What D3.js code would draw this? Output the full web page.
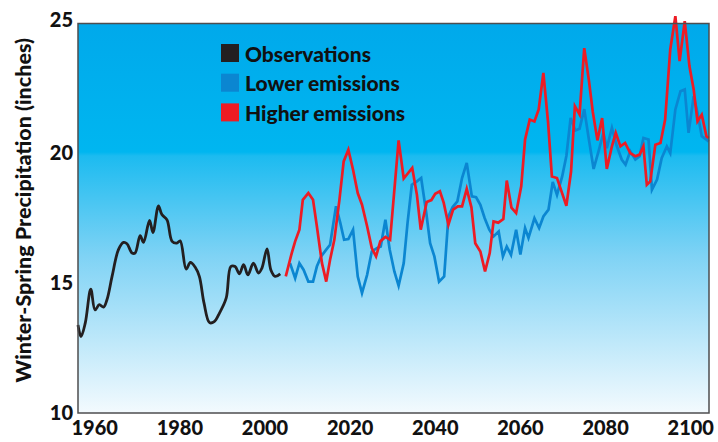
<!DOCTYPE html>
<html><head><meta charset="utf-8">
<script src="https://cdn.jsdelivr.net/npm/d3@7"></script>
<style>body{margin:0;background:#fff}svg{display:block}</style>
</head><body>
<svg id="chart" width="718" height="442"></svg>
<script>
// ---- data ----
const observations = [
  [1956.2,13.39],[1956.9,12.94],[1957.9,13.46],[1959.2,14.77],[1960.2,13.97],[1961.2,14.17],
  [1962.2,14.08],[1963.0,14.36],[1964.2,15.26],[1965.7,16.29],[1966.9,16.57],[1967.7,16.52],
  [1968.9,16.16],[1969.6,16.16],[1970.8,16.83],[1971.6,16.57],[1973.0,17.42],[1973.8,16.95],
  [1975.1,17.98],[1975.9,17.64],[1977.1,17.44],[1978.3,16.61],[1979.4,16.54],[1980.2,16.63],
  [1981.6,15.54],[1982.6,15.80],[1983.7,15.62],[1984.7,15.26],[1985.8,14.23],[1987.1,13.48],
  [1988.2,13.52],[1989.4,13.84],[1991.0,14.42],[1992.1,15.64],[1993.1,15.64],[1994.1,15.36],
  [1995.1,15.71],[1996.1,15.32],[1997.4,15.77],[1998.6,15.39],[1999.4,15.58],[2000.6,16.32],
  [2001.5,15.51],[2002.5,15.26],[2003.7,15.36]
];
const lowerEmissions = [
  [2006.0,15.77],[2007.2,15.19],[2008.2,15.77],[2009.2,15.51],[2010.3,15.06],[2011.4,15.06],
  [2012.3,15.64],[2013.3,16.03],[2014.5,16.29],[2015.4,16.48],[2016.8,17.96],[2017.8,17.32],
  [2018.7,16.67],[2019.7,16.70],[2020.8,17.06],[2021.9,15.26],[2022.9,14.62],[2024.1,15.32],
  [2025.2,16.22],[2026.4,16.35],[2027.3,16.41],[2028.4,17.44],[2029.4,16.30],[2030.5,15.45],
  [2031.5,14.90],[2032.7,15.77],[2033.6,17.32],[2034.6,18.79],[2035.8,18.92],[2036.8,19.05],
  [2038.0,17.70],[2038.9,16.54],[2039.9,16.03],[2041.0,15.06],[2042.2,15.26],[2043.2,17.57],
  [2044.2,17.93],[2045.3,18.15],[2046.4,19.05],[2047.5,19.63],[2048.7,18.34],[2049.7,18.31],
  [2050.7,18.02],[2051.7,17.51],[2052.8,17.06],[2053.8,16.80],[2055.0,16.99],[2056.0,16.03],
  [2056.9,16.41],[2057.9,16.09],[2059.1,17.06],[2060.1,16.10],[2061.2,17.12],[2062.0,16.74],
  [2063.4,17.50],[2064.5,17.12],[2065.5,17.57],[2066.7,17.83],[2067.7,18.90],[2068.7,18.40],
  [2069.9,19.10],[2070.9,19.90],[2071.9,21.36],[2073.0,20.88],[2074.0,20.95],[2075.1,21.70],
  [2076.1,20.63],[2077.3,19.40],[2078.5,20.10],[2079.6,20.79],[2080.4,20.20],[2081.6,20.98],
  [2082.7,20.30],[2083.9,19.76],[2084.8,19.56],[2085.9,20.08],[2087.1,19.76],[2088.1,19.89],
  [2089.0,20.59],[2090.2,20.53],[2091.0,18.60],[2092.2,18.99],[2093.3,19.82],[2094.5,20.27],
  [2095.3,20.01],[2096.5,21.69],[2097.7,22.39],[2098.7,22.46],[2099.6,20.79],[2100.8,22.20],
  [2101.7,21.56],[2102.7,20.66],[2103.8,20.53],[2104.3,20.45]
];
const higherEmissions = [
  [2005.0,15.26],[2006.4,16.16],[2007.2,16.61],[2008.2,17.06],[2009.0,18.21],[2010.3,18.47],
  [2011.4,18.21],[2012.3,17.19],[2013.5,15.77],[2014.5,15.06],[2015.4,15.90],[2016.4,16.67],
  [2017.6,18.21],[2018.6,19.69],[2019.7,20.14],[2020.8,19.37],[2021.9,18.47],[2022.9,18.02],
  [2024.1,17.19],[2025.2,16.35],[2026.2,16.03],[2027.2,16.61],[2028.4,16.78],[2029.5,16.67],
  [2031.5,20.50],[2032.7,19.03],[2034.7,19.44],[2035.8,18.40],[2036.7,17.06],[2038.1,18.13],
  [2039.2,18.20],[2040.1,18.44],[2041.2,18.54],[2042.1,18.09],[2043.2,17.25],[2044.3,17.83],
  [2045.4,17.96],[2046.4,17.96],[2047.5,18.63],[2048.6,17.92],[2049.5,16.54],[2050.7,16.22],
  [2051.8,15.45],[2052.9,16.16],[2053.8,17.38],[2054.9,17.33],[2056.1,17.47],[2056.9,18.95],
  [2058.0,17.91],[2059.1,17.70],[2060.3,18.73],[2061.2,20.53],[2062.3,21.30],[2063.4,21.23],
  [2064.4,21.69],[2065.5,23.10],[2066.6,21.20],[2067.5,19.11],[2068.7,19.05],[2069.9,18.47],
  [2070.9,17.98],[2072.0,19.30],[2072.9,21.82],[2074.0,21.50],[2075.1,24.05],[2076.2,22.80],
  [2077.1,21.60],[2078.2,20.50],[2079.3,21.36],[2080.4,19.40],[2081.6,20.27],[2082.5,20.79],
  [2083.6,20.27],[2084.7,20.40],[2085.9,20.01],[2087.1,19.89],[2088.1,19.95],[2089.0,20.27],
  [2089.8,18.79],[2090.6,18.92],[2091.8,20.33],[2093.0,20.40],[2094.1,21.30],[2095.3,24.00],
  [2096.5,25.28],[2097.5,23.55],[2098.7,25.09],[2099.8,23.36],[2100.8,22.46],[2101.7,21.23],
  [2102.7,21.49],[2103.8,20.66],[2104.3,20.59]
];
const xTickValues = [1960, 1980, 2000, 2020, 2040, 2060, 2080, 2100];
const yTickValues = [10, 15, 20, 25];
const legendLabels = ["Observations", "Lower emissions", "Higher emissions"];
const legendColors = ["#231f20", "#0b86d1", "#ed1c24"];
const yTitle = "Winter-Spring Precipitation (inches)";

// ---- layout ----
const svg = d3.select("#chart");
const pL = 78, pR = 709, pT = 23.5, pB = 413;
const x = d3.scaleLinear().domain([1956.2, 2104.4]).range([pL, pR]);
const y = d3.scaleLinear().domain([10, 25]).range([pB, pT]);
const FONT = "Lato, 'Open Sans', sans-serif";

// gradient background
const defs = svg.append("defs");
const grad = defs.append("linearGradient").attr("id", "bg").attr("x1", 0).attr("y1", 0).attr("x2", 0).attr("y2", 1);
[[0, "#00a9eb"], [0.33, "#00b6f0"], [0.34, "#1cbbf0"], [0.6, "#80d3f5"], [1, "#f3fafe"]]
  .forEach(([o, c]) => grad.append("stop").attr("offset", o).attr("stop-color", c));

svg.append("rect").attr("x", pL).attr("y", pT).attr("width", pR - pL).attr("height", pB - pT)
  .attr("fill", "url(#bg)");

// axes (labels only, frame drawn separately)
const xAxis = d3.axisBottom(x).tickValues(xTickValues).tickFormat(d3.format("d")).tickSize(0).tickPadding(8);
const gx = svg.append("g").attr("transform", `translate(0,${pB})`).call(xAxis);
gx.select(".domain").remove();
gx.selectAll("text").attr("font-family", FONT).attr("font-weight", 900).attr("font-size", 20).attr("fill", "#111");

const yAxis = d3.axisLeft(y).tickValues(yTickValues).tickFormat(d3.format("d")).tickSize(0).tickPadding(5);
const gy = svg.append("g").attr("transform", `translate(${pL},0)`).call(yAxis);
gy.select(".domain").remove();
gy.selectAll("text").attr("font-family", FONT).attr("font-weight", 900).attr("font-size", 20).attr("fill", "#111");
gy.selectAll(".tick").filter(d => d === 25).select("text").attr("dy", "0.15em");

// y title
svg.append("text").attr("transform", `translate(23,${(pT + pB) / 2 - 8}) rotate(-90)`)
  .attr("text-anchor", "middle").attr("dominant-baseline", "central")
  .attr("font-family", FONT).attr("font-weight", 900).attr("font-size", 21.5).attr("fill", "#111")
  .text(yTitle);

// lines
const linear = d3.line().x(d => x(d[0])).y(d => y(d[1]));
const smooth = d3.line().x(d => x(d[0])).y(d => y(d[1])).curve(d3.curveCatmullRom.alpha(0.5));

svg.append("path").datum(lowerEmissions).attr("d", linear)
  .attr("fill", "none").attr("stroke", legendColors[1]).attr("stroke-width", 2.7).attr("stroke-linejoin", "miter");
svg.append("path").datum(higherEmissions).attr("d", linear)
  .attr("fill", "none").attr("stroke", legendColors[2]).attr("stroke-width", 2.7).attr("stroke-linejoin", "miter");
svg.append("path").datum(observations).attr("d", smooth)
  .attr("fill", "none").attr("stroke", legendColors[0]).attr("stroke-width", 2.8).attr("stroke-linejoin", "round");

// frame
svg.append("rect").attr("x", pL).attr("y", pT).attr("width", pR - pL).attr("height", pB - pT)
  .attr("fill", "none").attr("stroke", "#4d4d4f").attr("stroke-width", 1.5);

// legend
const lg = svg.append("g").attr("transform", "translate(221,44)");
legendLabels.forEach((lab, i) => {
  const row = lg.append("g").attr("transform", `translate(0,${i * 29.7})`);
  row.append("rect").attr("width", 18).attr("height", 18).attr("fill", legendColors[i]);
  row.append("text").attr("x", 24).attr("y", 9).attr("dominant-baseline", "central")
    .attr("font-family", FONT).attr("font-weight", 900).attr("font-size", 21).attr("fill", "#111")
    .text(lab);
});
</script>
</body></html>
